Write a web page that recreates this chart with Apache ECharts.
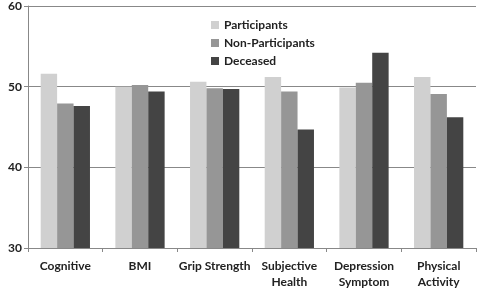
<!DOCTYPE html>
<html>
<head>
<meta charset="utf-8">
<script src="https://cdn.jsdelivr.net/npm/echarts@6/dist/echarts.min.js"></script>
<style>
html,body{margin:0;padding:0;background:#fff;}
#chart{width:478px;height:290px;}
</style>
</head>
<body>
<div id="chart"></div>
<script>
var categories = ['Cognitive', 'BMI', 'Grip Strength', 'Subjective\nHealth', 'Depression\nSymptom', 'Physical\nActivity'];
var participants = [51.6, 50.0, 50.6, 51.2, 49.9, 51.2];
var nonParticipants = [47.9, 50.2, 49.8, 49.4, 50.5, 49.1];
var deceased = [47.6, 49.4, 49.7, 44.7, 54.2, 46.2];

var chart = echarts.init(document.getElementById('chart'));
var font = 'Lato, "Open Sans", sans-serif';
var option = {
    animation: false,
    backgroundColor: '#ffffff',
    grid: {left: 28, right: 2, top: 5, bottom: 38},
    legend: {
        orient: 'vertical',
        left: 206,
        top: 14,
        itemWidth: 8,
        itemHeight: 8,
        itemGap: 6,
        icon: 'rect',
        textStyle: {fontFamily: font, fontWeight: 'bold', fontSize: 12, color: '#222'},
        data: ['Participants', 'Non-Participants', 'Deceased']
    },
    xAxis: {
        type: 'category',
        data: categories,
        axisLine: {lineStyle: {color: '#888'}},
        axisTick: {show: true, length: 4, lineStyle: {color: '#888'}},
        axisLabel: {fontFamily: font, fontWeight: 'bold', fontSize: 12, color: '#222', margin: 10, lineHeight: 16, interval: 0}
    },
    yAxis: {
        type: 'value',
        min: 30,
        max: 60,
        interval: 10,
        axisLine: {show: true, lineStyle: {color: '#888'}},
        axisTick: {show: true, length: 4, lineStyle: {color: '#888'}},
        splitLine: {lineStyle: {color: '#888'}},
        axisLabel: {fontFamily: font, fontWeight: 'bold', fontSize: 12, color: '#222', margin: 6}
    },
    series: [
        {name: 'Participants', type: 'bar', data: participants, barGap: '0%', barCategoryGap: '34%', itemStyle: {color: '#d0d0d0'}},
        {name: 'Non-Participants', type: 'bar', data: nonParticipants, itemStyle: {color: '#969696'}},
        {name: 'Deceased', type: 'bar', data: deceased, itemStyle: {color: '#444444'}}
    ]
};
chart.setOption(option);
</script>
</body>
</html>
